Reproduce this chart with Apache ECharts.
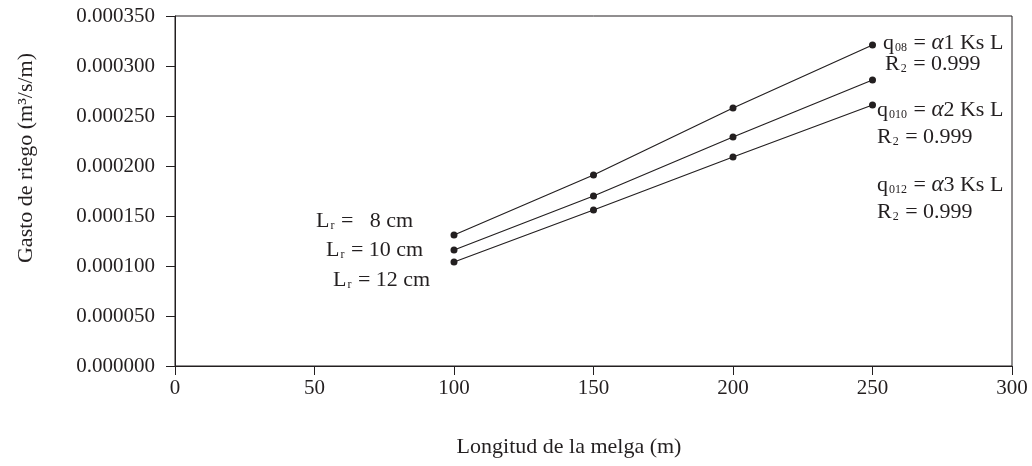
<!DOCTYPE html>
<html>
<head>
<meta charset="utf-8">
<script src="https://cdn.jsdelivr.net/npm/echarts@6/dist/echarts.min.js"></script>
<style>
  html, body { margin: 0; padding: 0; background: #fff; }
  #chart { width: 1032px; height: 466px; }
</style>
</head>
<body>
<div id="chart"></div>
<script>
// longitud de la melga (m)
const longitudes = [100, 150, 200, 250];
// gasto de riego (m3/s/m) por espesor de lamina
const gasto8cm = [0.000131, 0.000191, 0.000258, 0.000321];
const gasto10cm = [0.000116, 0.000170, 0.000229, 0.000286];
const gasto12cm = [0.000104, 0.000156, 0.000209, 0.000261];
const seriesNames = ['Lr = 8 cm', 'Lr = 10 cm', 'Lr = 12 cm'];

const ink = '#231f20';
const font = '"Liberation Serif", "DejaVu Serif", serif';

const chart = echarts.init(document.getElementById('chart'));

function pares(ys) {
  return longitudes.map((x, i) => [x, ys[i]]);
}

function linea(name, ys) {
  return {
    name: name,
    type: 'line',
    data: pares(ys),
    symbol: 'circle',
    symbolSize: 7,
    lineStyle: { color: ink, width: 1.2 },
    itemStyle: { color: ink },
    animation: false
  };
}

// estilos de texto enriquecido para subindices
const rich = {
  a: { fontFamily: font, fontSize: 22, fill: ink, lineHeight: 26, verticalAlign: 'bottom' },
  i: { fontFamily: font, fontSize: 23, fill: ink, fontStyle: 'italic', lineHeight: 26, verticalAlign: 'bottom' },
  s: { fontFamily: font, fontSize: 12, fill: ink, lineHeight: 12, verticalAlign: 'bottom', padding: [0, 1, 0, 1] }
};

function texto(x, y, txt) {
  return {
    type: 'text',
    x: x,
    y: y,
    silent: true,
    style: { text: txt, rich: rich, fontFamily: font, fontSize: 22, fill: ink, verticalAlign: 'middle' }
  };
}

const option = {
  backgroundColor: '#fff',
  textStyle: { fontFamily: font, color: ink },
  grid: {
    left: 175, right: 20, top: 16, bottom: 100,
    show: true, borderColor: ink, borderWidth: 1, backgroundColor: 'transparent'
  },
  xAxis: {
    type: 'value',
    min: 0, max: 300, interval: 50,
    name: 'Longitud de la melga (m)',
    nameLocation: 'middle',
    nameGap: 70,
    nameTextStyle: { fontFamily: font, fontSize: 22, color: ink, padding: [0, 49, 0, 0] },
    axisLine: { show: true, onZero: false, lineStyle: { color: ink, width: 1 } },
    axisTick: { show: true, length: 9, lineStyle: { color: ink } },
    axisLabel: { fontFamily: font, fontSize: 21, color: ink, margin: 12 },
    splitLine: { show: false }
  },
  yAxis: {
    type: 'value',
    min: 0, max: 0.00035, interval: 0.00005,
    name: 'Gasto de riego (m³/s/m)',
    nameLocation: 'middle',
    nameGap: 138,
    nameTextStyle: { fontFamily: font, fontSize: 22, color: ink, padding: [0, 0, 0, 66] },
    axisLine: { show: true, lineStyle: { color: ink, width: 1 } },
    axisTick: { show: true, length: 9, lineStyle: { color: ink } },
    axisLabel: {
      fontFamily: font, fontSize: 21, color: ink, margin: 20,
      formatter: v => v.toFixed(6)
    },
    splitLine: { show: false }
  },
  series: [
    linea(seriesNames[0], gasto8cm),
    linea(seriesNames[1], gasto10cm),
    linea(seriesNames[2], gasto12cm)
  ],
  graphic: [
    // etiquetas de lamina a la izquierda
    texto(316, 219, '{a|L}{s|r}{a| =   8 cm}'),
    texto(326, 248, '{a|L}{s|r}{a| = 10 cm}'),
    texto(333, 278, '{a|L}{s|r}{a| = 12 cm}'),
    // ecuaciones a la derecha
    texto(883, 41, '{a|q}{s|08}{a| = }{i|α}{a|1 Ks L}'),
    texto(885, 62, '{a|R}{s|2}{a| = 0.999}'),
    texto(877, 108, '{a|q}{s|010}{a| = }{i|α}{a|2 Ks L}'),
    texto(877, 135, '{a|R}{s|2}{a| = 0.999}'),
    texto(877, 183, '{a|q}{s|012}{a| = }{i|α}{a|3 Ks L}'),
    texto(877, 210, '{a|R}{s|2}{a| = 0.999}')
  ]
};

chart.setOption(option);
</script>
</body>
</html>
